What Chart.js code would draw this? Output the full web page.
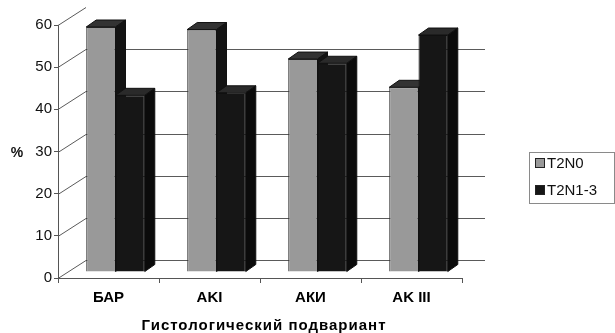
<!DOCTYPE html>
<html>
<head>
<meta charset="utf-8">
<script src="https://cdn.jsdelivr.net/npm/chart.js@4"></script>
<style>
  html, body { margin: 0; padding: 0; background: #fff; }
  #wrap { width: 615px; height: 333px; }
</style>
</head>
<body>
<div id="wrap"><canvas id="c" width="615" height="333"></canvas></div>
<script>
// Share of patients by histological subtype, per nodal stage group
const categories = ['БАР', 'AKI', 'АКИ', 'AK III'];
const seriesNames = ['T2N0', 'T2N1-3'];
const t2n0 = [58.1, 57.5, 50.5, 43.8];
const t2n13 = [41.9, 42.5, 49.5, 56.2];
const yTicks = [0, 10, 20, 30, 40, 50, 60];
const xTitle = 'Гистологический подвариант';
const yTitle = '%';

const FONT = "'Liberation Sans', Arial, sans-serif";
const FRONT = ['#999999', '#161616'];
const TOP = ['#333333', '#2a2a2a'];
const SIDE = ['#131313', '#0b0b0b'];

// pseudo-3D geometry: bars stand a third of the way into the floor
const BAR_SHIFT = { x: 7, y: -6 };
const BAR_DEPTH = { x: 10, y: -7 };
const WALL = { x: 28, y: -18 };

const box3d = {
  id: 'box3d',
  beforeDatasetsDraw(chart) {
    const { ctx, chartArea: a } = chart;
    const ys = chart.scales.y;
    ctx.save();
    ctx.strokeStyle = '#5a5a5a';
    ctx.lineWidth = 1;
    yTicks.forEach(v => {
      const y = Math.round(ys.getPixelForValue(v)) + 0.5;
      ctx.beginPath();
      ctx.moveTo(a.left, y);
      ctx.lineTo(a.left + WALL.x, y + WALL.y);
      if (v < yTicks[yTicks.length - 1]) ctx.lineTo(a.right + 23, y + WALL.y);
      ctx.stroke();
    });
    ctx.restore();
  },
  // the bars are painted below, left to right and front to back
  beforeDatasetDraw() { return false; },
  afterDatasetsDraw(chart) {
    const ctx = chart.ctx;
    ctx.save();
    ctx.translate(BAR_SHIFT.x, BAR_SHIFT.y);
    const metas = [0, 1].map(i => chart.getDatasetMeta(i));
    categories.forEach((_, j) => {
      metas.forEach((meta, i) => {
        const bar = meta.data[j];
        bar.draw(ctx);
        const p = bar.getProps(['x', 'y', 'base', 'width'], true);
        const x1 = p.x - p.width / 2, x2 = p.x + p.width / 2;
        const dx = BAR_DEPTH.x, dy = BAR_DEPTH.y;
        ctx.lineWidth = 1;
        ctx.strokeStyle = '#111';
        // top face
        ctx.beginPath();
        ctx.moveTo(x1, p.y);
        ctx.lineTo(x1 + dx, p.y + dy);
        ctx.lineTo(x2 + dx, p.y + dy);
        ctx.lineTo(x2, p.y);
        ctx.closePath();
        ctx.fillStyle = TOP[i];
        ctx.fill();
        ctx.stroke();
        // right side face
        ctx.beginPath();
        ctx.moveTo(x2, p.y);
        ctx.lineTo(x2 + dx, p.y + dy);
        ctx.lineTo(x2 + dx, p.base + dy);
        ctx.lineTo(x2, p.base);
        ctx.closePath();
        ctx.fillStyle = SIDE[i];
        ctx.fill();
        ctx.stroke();
      });
    });
    ctx.restore();
  },
  afterDraw(chart) {
    const { ctx, chartArea: a } = chart;
    ctx.save();
    // y axis title
    ctx.fillStyle = '#111';
    ctx.font = 'bold 14px ' + FONT;
    ctx.textAlign = 'center';
    ctx.textBaseline = 'middle';
    ctx.fillText(yTitle, 17, (a.top + a.bottom) / 2 + 2);
    // x axis title
    ctx.fillStyle = '#000';
    ctx.font = 'bold 15px ' + FONT;
    ctx.letterSpacing = '1px';
    ctx.fillText(xTitle, 264, 326);
    ctx.letterSpacing = '0px';
    // legend
    const lx = 529.5, ly = 152.5, lw = 85, lh = 51;
    ctx.strokeStyle = '#8a8a8a';
    ctx.lineWidth = 1;
    ctx.strokeRect(lx, ly, lw, lh);
    ctx.font = '15px ' + FONT;
    ctx.textAlign = 'left';
    seriesNames.forEach((name, k) => {
      const cy = 163 + k * 27;
      ctx.fillStyle = FRONT[k];
      ctx.fillRect(535, cy - 5, 10, 10);
      ctx.strokeStyle = '#222';
      ctx.strokeRect(535.5, cy - 4.5, 9, 9);
      ctx.fillStyle = '#111';
      ctx.fillText(name, 547, cy + 1);
    });
    ctx.restore();
  }
};

new Chart(document.getElementById('c'), {
  type: 'bar',
  data: {
    labels: categories,
    datasets: [
      { label: seriesNames[0], data: t2n0, backgroundColor: FRONT[0], borderColor: '#333', borderWidth: 1 },
      { label: seriesNames[1], data: t2n13, backgroundColor: FRONT[1], borderColor: '#111', borderWidth: 1 }
    ]
  },
  options: {
    responsive: false,
    animation: false,
    events: [],
    layout: { padding: { top: 25, right: 153, left: 0, bottom: 0 } },
    datasets: { bar: { categoryPercentage: 0.58, barPercentage: 1.0 } },
    plugins: { legend: { display: false }, tooltip: { enabled: false } },
    scales: {
      x: {
        offset: true,
        afterFit(s) { s.height = 55; },
        grid: { offset: true, drawOnChartArea: false, tickLength: 5, color: '#555' },
        border: { color: '#555', width: 1 },
        ticks: { color: '#000', font: { family: FONT, size: 15, weight: 'bold' }, padding: 6, maxRotation: 0 }
      },
      y: {
        min: 0,
        max: 60,
        afterFit(s) { s.width = 58; },
        afterBuildTicks(s) { s.ticks = yTicks.map(v => ({ value: v })); },
        grid: { drawOnChartArea: false, tickLength: 4, color: '#555' },
        border: { color: '#555', width: 1 },
        ticks: { color: '#111', font: { family: FONT, size: 15 }, padding: 2 }
      }
    }
  },
  plugins: [box3d]
});
</script>
</body>
</html>
